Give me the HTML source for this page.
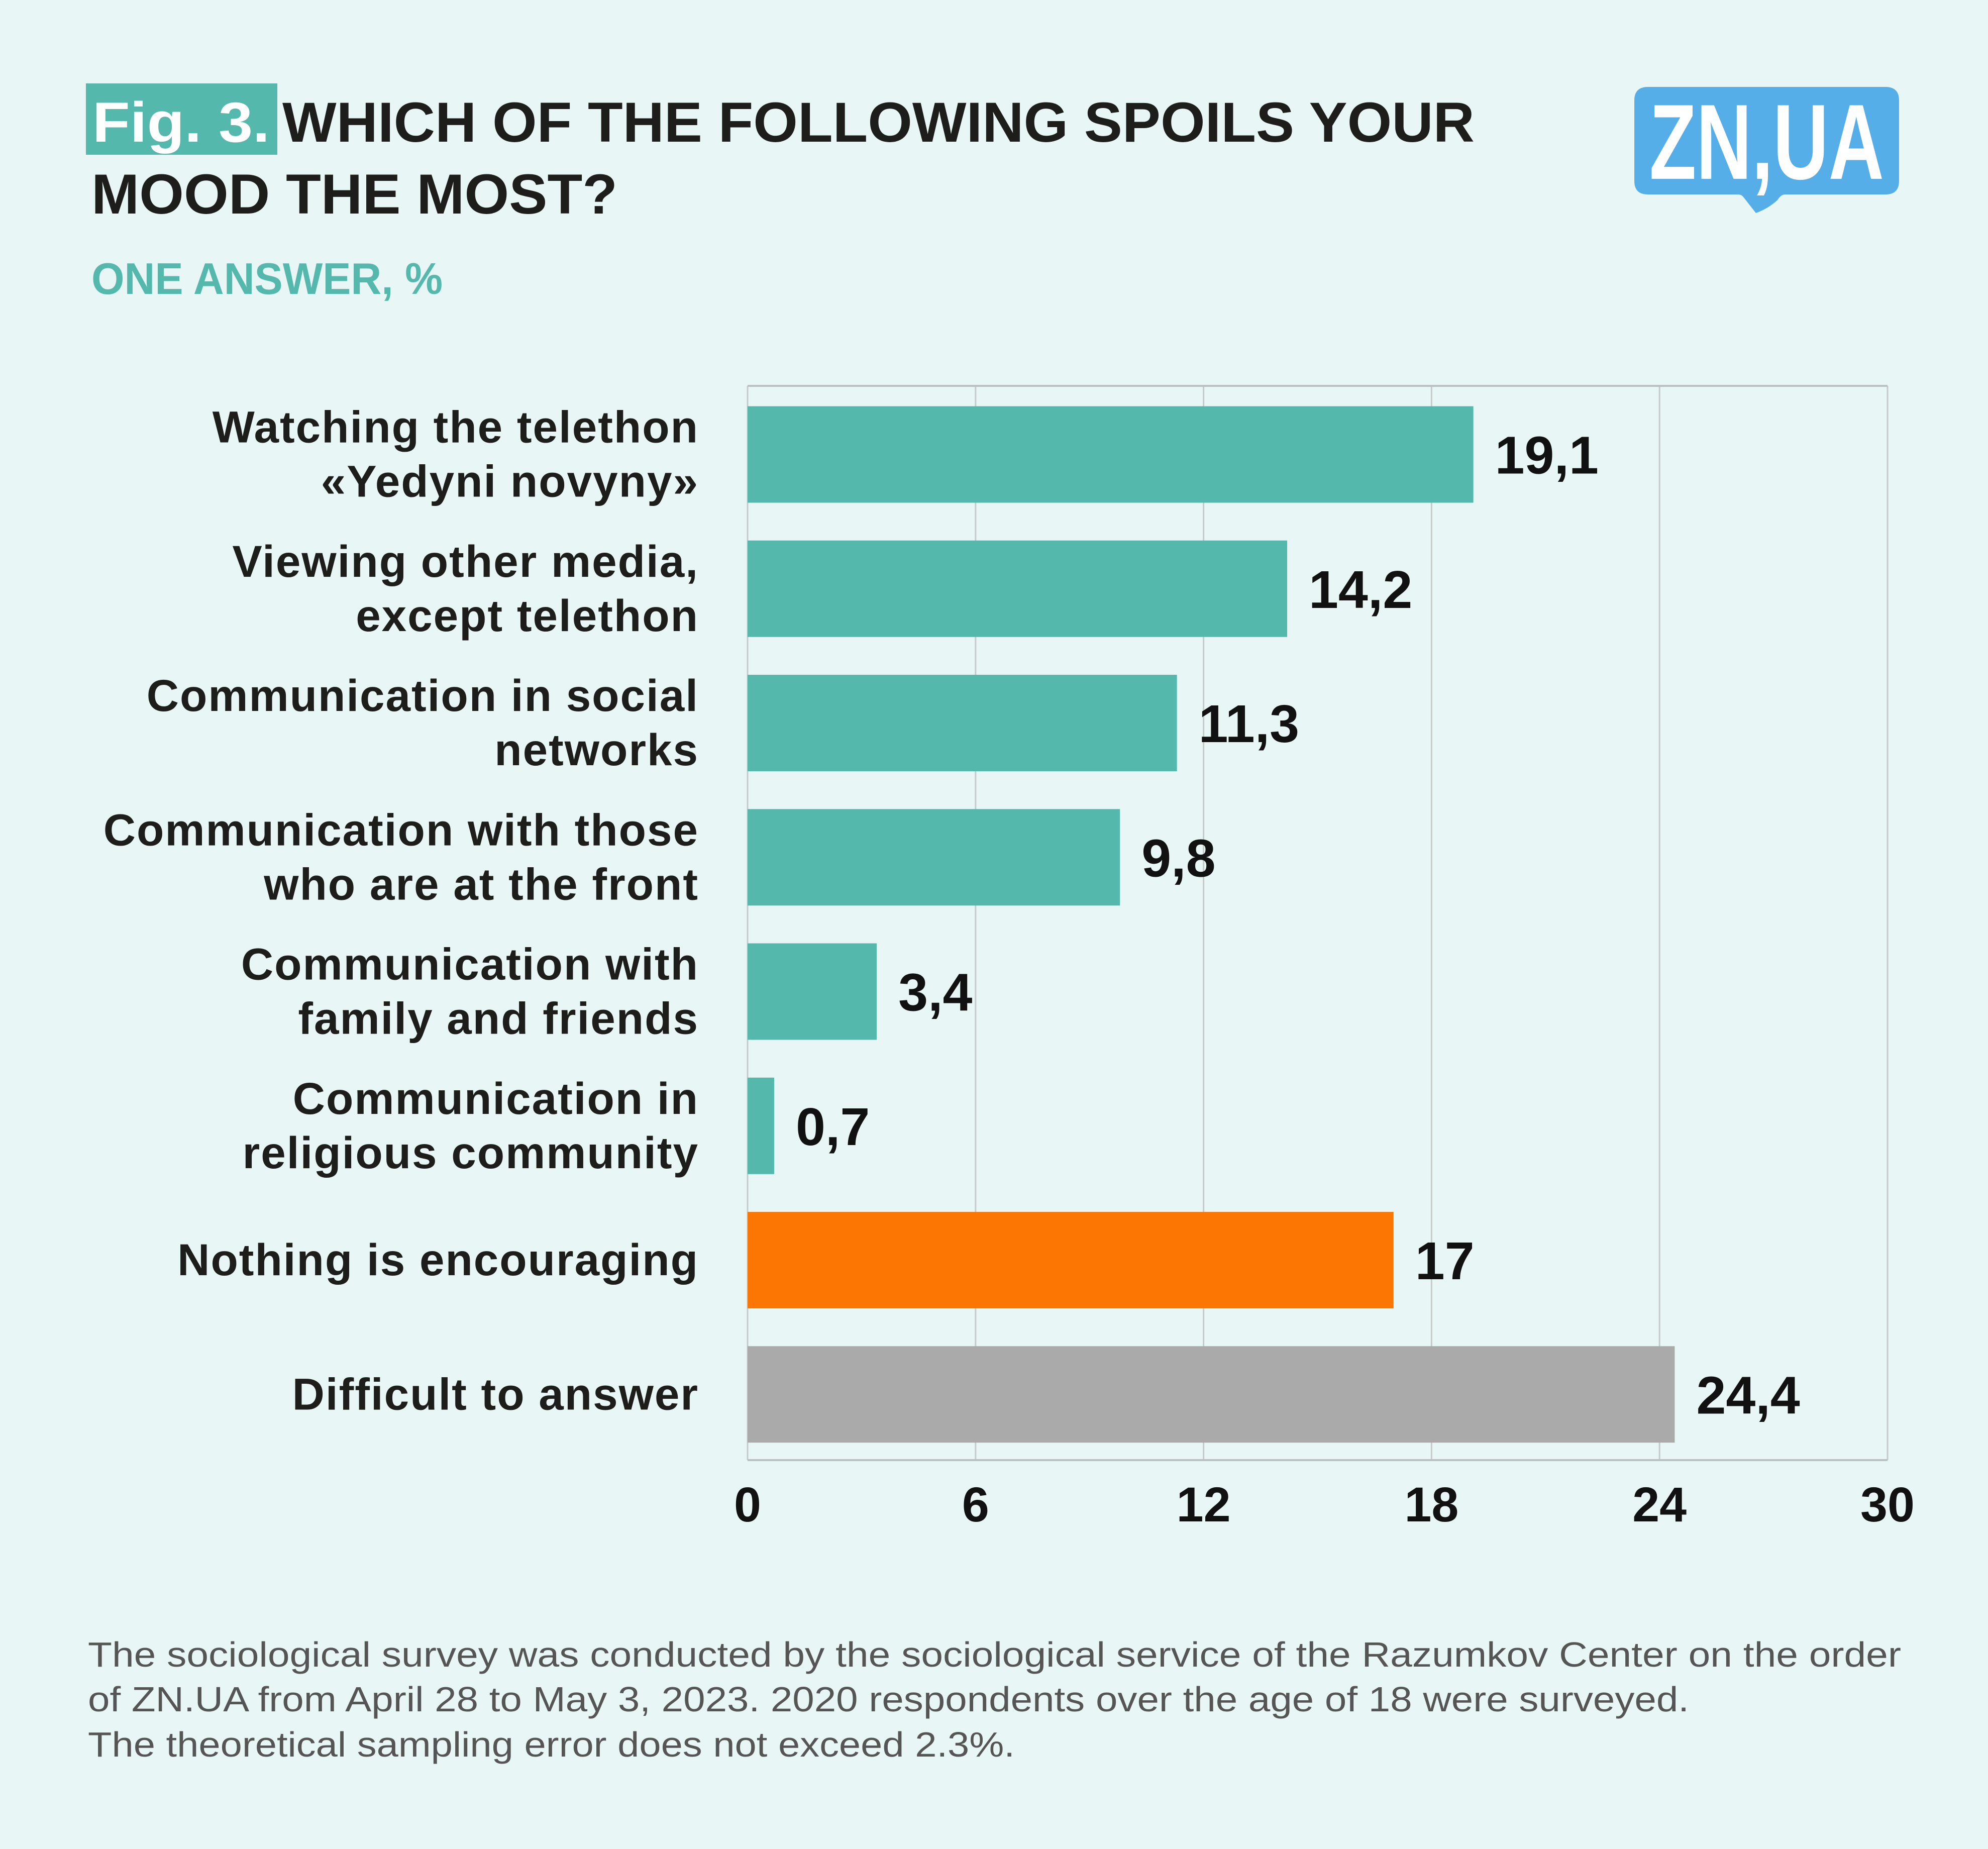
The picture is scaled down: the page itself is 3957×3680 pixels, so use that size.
<!DOCTYPE html>
<html><head><meta charset="utf-8"><style>
html,body{margin:0;padding:0;background:#e8f6f5}
svg{display:block}
text{font-family:"Liberation Sans",sans-serif}
</style></head><body>
<svg id="chart" width="3957" height="3680" viewBox="0 0 3957 3680" xmlns="http://www.w3.org/2000/svg">
<rect x="0" y="0" width="3957" height="3680" fill="#e8f6f5"/>
<g>
<rect x="171" y="166" width="381" height="142" fill="#55b8ad"/>
<text x="184" y="282" font-size="112" font-weight="bold" fill="#ffffff" textLength="353" lengthAdjust="spacingAndGlyphs">Fig. 3.</text>
<text x="562" y="282" font-size="112" font-weight="bold" fill="#1d1d1b" textLength="2373" lengthAdjust="spacingAndGlyphs">WHICH OF THE FOLLOWING SPOILS YOUR</text>
<text x="182" y="425" font-size="112" font-weight="bold" fill="#1d1d1b" textLength="1047" lengthAdjust="spacingAndGlyphs">MOOD THE MOST?</text>
</g>
<text x="182" y="585" font-size="88" font-weight="bold" fill="#55b8ad" textLength="699" lengthAdjust="spacingAndGlyphs">ONE ANSWER, %</text>
<g>
<path d="M3280 173 H3753 Q3780 173 3780 200 V360 Q3780 387 3753 387 H3553 Q3545 387 3538 398 Q3520 415 3495 424 L3470 392 Q3466 387 3460 387 H3280 Q3253 387 3253 360 V200 Q3253 173 3280 173 Z" fill="#55aee8"/>
<text x="3283" y="356" font-size="213" font-weight="bold" fill="#ffffff" textLength="467" lengthAdjust="spacingAndGlyphs">ZN,UA</text>
</g>
<g id="plot"></g>
<g>
<text x="175" y="3317" font-size="70" fill="#555555" textLength="3609" lengthAdjust="spacingAndGlyphs">The sociological survey was conducted by the sociological service of the Razumkov Center on the order</text>
<text x="175" y="3406" font-size="70" fill="#555555" textLength="3187" lengthAdjust="spacingAndGlyphs">of ZN.UA from April 28 to May 3, 2023. 2020 respondents over the age of 18 were surveyed.</text>
<text x="175" y="3496" font-size="70" fill="#555555" textLength="1845" lengthAdjust="spacingAndGlyphs">The theoretical sampling error does not exceed 2.3%.</text>
</g>
</svg>
<script>
const categories = [
  ["Watching the telethon", "«Yedyni novyny»"],
  ["Viewing other media,", "except telethon"],
  ["Communication in social", "networks"],
  ["Communication with those", "who are at the front"],
  ["Communication with", "family and friends"],
  ["Communication in", "religious community"],
  ["Nothing is encouraging"],
  ["Difficult to answer"]
];
const values = [19.1, 14.2, 11.3, 9.8, 3.4, 0.7, 17, 24.4];
const valueLabels = ["19,1", "14,2", "11,3", "9,8", "3,4", "0,7", "17", "24,4"];
const barColors = ["#55b8ad","#55b8ad","#55b8ad","#55b8ad","#55b8ad","#55b8ad","#fc7603","#aaaaaa"];
const ticks = [0, 6, 12, 18, 24, 30];

const NS = "http://www.w3.org/2000/svg";
const X0 = 1488, X1 = 3757, Y0 = 768, Y1 = 2906;
const xMax = 30;
const band = (Y1 - Y0) / categories.length;
const barH = 192, barOff = 40.5;
const x = v => X0 + (v / xMax) * (X1 - X0);
const yTop = i => Y0 + i * band + barOff;
const plot = document.getElementById("plot");
function mk(tag, attrs) {
  const e = document.createElementNS(NS, tag);
  for (const k in attrs) e.setAttribute(k, attrs[k]);
  return e;
}
ticks.forEach((t, i) => {
  const l = mk("line", {x1: x(t), x2: x(t), y1: Y0, y2: Y1, stroke: "#c3cbcb", "stroke-width": 3});
  
  
  plot.appendChild(l);
  const tx = mk("text", {x: x(t), y: 3028, "font-size": 97, "font-weight": "bold", fill: "#111", "text-anchor": "middle"});
  tx.textContent = String(t);
  
  
  plot.appendChild(tx);
});
const topB = mk("line", {x1: X0, x2: X1, y1: Y0, y2: Y0, stroke: "#b8c0c0", "stroke-width": 4});


plot.appendChild(topB);
const botB = mk("line", {x1: X0, x2: X1, y1: Y1, y2: Y1, stroke: "#b8c0c0", "stroke-width": 4});


plot.appendChild(botB);
values.forEach((v, i) => {
  const r = mk("rect", {x: X0, y: yTop(i), width: x(v) - X0, height: barH, fill: barColors[i]});
  
  
  plot.appendChild(r);
  const cy = yTop(i) + barH / 2;
  const vl = mk("text", {x: x(v) + 43, y: cy + 38, "font-size": 106, "font-weight": "bold", fill: "#111"});
  vl.textContent = valueLabels[i];
  
  
  plot.appendChild(vl);
  const lines = categories[i];
  const lh = 108;
  const first = cy + 30 - (lines.length - 1) * lh / 2;
  lines.forEach((ln, j) => {
    const t = mk("text", {x: 1391, y: first + j * lh, "font-size": 89, "font-weight": "bold", fill: "#1d1d1b", "text-anchor": "end", "letter-spacing": 2});
    t.textContent = ln;
    
    
    plot.appendChild(t);
  });
});
</script>
</body></html>
